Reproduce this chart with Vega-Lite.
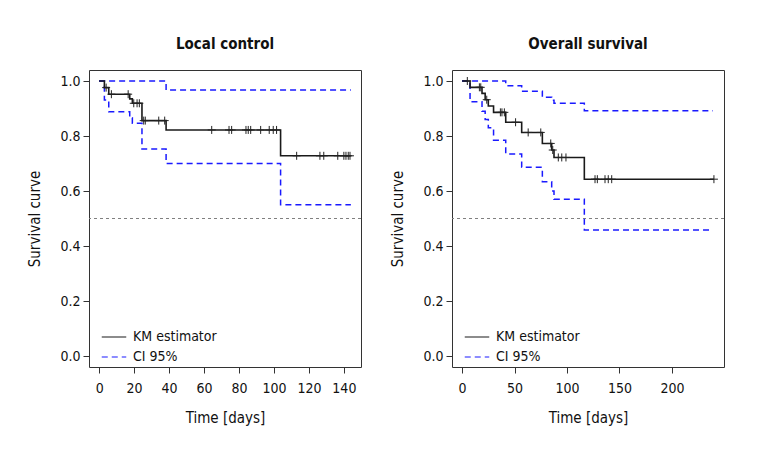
{
  "$schema": "https://vega.github.io/schema/vega-lite/v6.json",
  "padding": {"left": 27, "top": 36, "right": 10, "bottom": 10},
  "background": "white",
  "spacing": 28,
  "datasets": {
    "lc_lines": [
      {"t": 0, "s": 1, "series": "KM estimator", "bound": "km"},
      {"t": 3, "s": 0.976, "series": "KM estimator", "bound": "km"},
      {"t": 5.5, "s": 0.952, "series": "KM estimator", "bound": "km"},
      {"t": 17.5, "s": 0.935, "series": "KM estimator", "bound": "km"},
      {"t": 19, "s": 0.919, "series": "KM estimator", "bound": "km"},
      {"t": 24.5, "s": 0.856, "series": "KM estimator", "bound": "km"},
      {"t": 38.3, "s": 0.822, "series": "KM estimator", "bound": "km"},
      {"t": 103.8, "s": 0.728, "series": "KM estimator", "bound": "km"},
      {"t": 144, "s": 0.728, "series": "KM estimator", "bound": "km"},
      {"t": 0, "s": 1, "series": "CI 95%", "bound": "upper"},
      {"t": 38.3, "s": 0.967, "series": "CI 95%", "bound": "upper"},
      {"t": 144, "s": 0.967, "series": "CI 95%", "bound": "upper"},
      {"t": 0, "s": 1, "series": "CI 95%", "bound": "lower"},
      {"t": 3, "s": 0.931, "series": "CI 95%", "bound": "lower"},
      {"t": 5.5, "s": 0.888, "series": "CI 95%", "bound": "lower"},
      {"t": 17.5, "s": 0.866, "series": "CI 95%", "bound": "lower"},
      {"t": 19, "s": 0.846, "series": "CI 95%", "bound": "lower"},
      {"t": 24.5, "s": 0.753, "series": "CI 95%", "bound": "lower"},
      {"t": 38.3, "s": 0.7, "series": "CI 95%", "bound": "lower"},
      {"t": 103.8, "s": 0.55, "series": "CI 95%", "bound": "lower"},
      {"t": 144, "s": 0.55, "series": "CI 95%", "bound": "lower"}
    ],
    "lc_cens": [
      {"t": 4, "s": 0.976}, {"t": 7, "s": 0.952}, {"t": 16.6, "s": 0.952},
      {"t": 19.8, "s": 0.919}, {"t": 21.7, "s": 0.919}, {"t": 23, "s": 0.919},
      {"t": 25.5, "s": 0.856}, {"t": 26.4, "s": 0.856}, {"t": 34.1, "s": 0.856}, {"t": 37.5, "s": 0.856},
      {"t": 64.4, "s": 0.822}, {"t": 74.3, "s": 0.822}, {"t": 75.8, "s": 0.822}, {"t": 84, "s": 0.822},
      {"t": 85.3, "s": 0.822}, {"t": 86.7, "s": 0.822}, {"t": 92.4, "s": 0.822}, {"t": 97.3, "s": 0.822},
      {"t": 99.6, "s": 0.822}, {"t": 101.5, "s": 0.822},
      {"t": 113, "s": 0.728}, {"t": 126.3, "s": 0.728}, {"t": 128.5, "s": 0.728}, {"t": 136.5, "s": 0.728},
      {"t": 140, "s": 0.728}, {"t": 141.2, "s": 0.728}, {"t": 142.5, "s": 0.728}, {"t": 143.5, "s": 0.728}
    ],
    "os_lines": [
      {"t": 0, "s": 1, "series": "KM estimator", "bound": "km"},
      {"t": 7.6, "s": 0.977, "series": "KM estimator", "bound": "km"},
      {"t": 19, "s": 0.955, "series": "KM estimator", "bound": "km"},
      {"t": 22, "s": 0.932, "series": "KM estimator", "bound": "km"},
      {"t": 25, "s": 0.909, "series": "KM estimator", "bound": "km"},
      {"t": 30, "s": 0.886, "series": "KM estimator", "bound": "km"},
      {"t": 41.6, "s": 0.85, "series": "KM estimator", "bound": "km"},
      {"t": 56.8, "s": 0.813, "series": "KM estimator", "bound": "km"},
      {"t": 76.5, "s": 0.773, "series": "KM estimator", "bound": "km"},
      {"t": 85.4, "s": 0.749, "series": "KM estimator", "bound": "km"},
      {"t": 87.6, "s": 0.722, "series": "KM estimator", "bound": "km"},
      {"t": 116.5, "s": 0.643, "series": "KM estimator", "bound": "km"},
      {"t": 240, "s": 0.643, "series": "KM estimator", "bound": "km"},
      {"t": 0, "s": 1, "series": "CI 95%", "bound": "upper"},
      {"t": 41.6, "s": 0.983, "series": "CI 95%", "bound": "upper"},
      {"t": 56.8, "s": 0.963, "series": "CI 95%", "bound": "upper"},
      {"t": 76.5, "s": 0.941, "series": "CI 95%", "bound": "upper"},
      {"t": 85.4, "s": 0.93, "series": "CI 95%", "bound": "upper"},
      {"t": 87.6, "s": 0.919, "series": "CI 95%", "bound": "upper"},
      {"t": 116.5, "s": 0.892, "series": "CI 95%", "bound": "upper"},
      {"t": 239, "s": 0.892, "series": "CI 95%", "bound": "upper"},
      {"t": 0, "s": 1, "series": "CI 95%", "bound": "lower"},
      {"t": 7.6, "s": 0.925, "series": "CI 95%", "bound": "lower"},
      {"t": 19, "s": 0.89, "series": "CI 95%", "bound": "lower"},
      {"t": 22, "s": 0.86, "series": "CI 95%", "bound": "lower"},
      {"t": 25, "s": 0.83, "series": "CI 95%", "bound": "lower"},
      {"t": 30, "s": 0.785, "series": "CI 95%", "bound": "lower"},
      {"t": 41.6, "s": 0.735, "series": "CI 95%", "bound": "lower"},
      {"t": 56.8, "s": 0.686, "series": "CI 95%", "bound": "lower"},
      {"t": 76.5, "s": 0.634, "series": "CI 95%", "bound": "lower"},
      {"t": 85.4, "s": 0.6, "series": "CI 95%", "bound": "lower"},
      {"t": 87.6, "s": 0.57, "series": "CI 95%", "bound": "lower"},
      {"t": 116.5, "s": 0.458, "series": "CI 95%", "bound": "lower"},
      {"t": 236, "s": 0.458, "series": "CI 95%", "bound": "lower"}
    ],
    "os_cens": [
      {"t": 5, "s": 1}, {"t": 16.5, "s": 0.977}, {"t": 17.8, "s": 0.977}, {"t": 23.5, "s": 0.932},
      {"t": 36.5, "s": 0.886}, {"t": 38, "s": 0.886}, {"t": 40.3, "s": 0.886}, {"t": 51, "s": 0.85},
      {"t": 63, "s": 0.813}, {"t": 75, "s": 0.813}, {"t": 84.5, "s": 0.773}, {"t": 86.4, "s": 0.749},
      {"t": 91.7, "s": 0.722}, {"t": 95, "s": 0.722}, {"t": 99, "s": 0.722},
      {"t": 126.7, "s": 0.643}, {"t": 128.9, "s": 0.643}, {"t": 136.2, "s": 0.643}, {"t": 139.3, "s": 0.643},
      {"t": 142.6, "s": 0.643}, {"t": 240, "s": 0.643}
    ],
    "ref": [{"level": 0.5}]
  },
  "resolve": {
    "scale": {"x": "independent", "y": "independent", "color": "independent", "strokeDash": "independent"},
    "legend": {"color": "independent", "strokeDash": "independent"}
  },
  "hconcat": [
    {
      "width": 272,
      "height": 297,
      "title": {"text": "Local control"},
      "encoding": {
        "x": {"field": "t", "type": "quantitative", "scale": {"domain": [-5.8, 149.8], "nice": false, "zero": false},
              "axis": {"title": "Time [days]", "values": [0, 20, 40, 60, 80, 100, 120, 140], "labelOverlap": false}},
        "y": {"field": "s", "type": "quantitative", "scale": {"domain": [-0.04, 1.04], "nice": false, "zero": false},
              "axis": {"title": "Survival curve", "values": [0, 0.2, 0.4, 0.6, 0.8, 1.0], "format": ".1f", "labelOverlap": false}}
      },
      "layer": [
        {
          "data": {"name": "ref"},
          "mark": {"type": "rule", "color": "#808080", "strokeDash": [3, 3], "strokeWidth": 1},
          "encoding": {"x": null, "y": {"field": "level", "type": "quantitative"}}
        },
        {
          "data": {"name": "lc_lines"},
          "transform": [{"filter": "datum.series === 'CI 95%'"}],
          "mark": {"type": "line", "interpolate": "step-after", "strokeWidth": 1.5},
          "encoding": {
            "detail": {"field": "bound"},
            "color": {"field": "series", "type": "nominal", "scale": {"domain": ["KM estimator", "CI 95%"], "range": ["#1a1a1a", "#1a1aff"]}, "legend": {"title": null}},
            "strokeDash": {"field": "series", "type": "nominal", "scale": {"domain": ["KM estimator", "CI 95%"], "range": [[1, 0], [6, 4]]}, "legend": {"title": null}}
          }
        },
        {
          "data": {"name": "lc_lines"},
          "transform": [{"filter": "datum.series === 'KM estimator'"}],
          "mark": {"type": "line", "interpolate": "step-after", "strokeWidth": 1.6},
          "encoding": {
            "color": {"field": "series", "type": "nominal"},
            "strokeDash": {"field": "series", "type": "nominal"}
          }
        },
        {
          "data": {"name": "lc_cens"},
          "mark": {"type": "point", "shape": "M-1,0L1,0M0,-1L0,1", "filled": false, "stroke": "#222222", "strokeWidth": 1, "size": 64, "opacity": 1}
        }
      ]
    },
    {
      "width": 272,
      "height": 297,
      "title": {"text": "Overall survival"},
      "encoding": {
        "x": {"field": "t", "type": "quantitative", "scale": {"domain": [-9.6, 249.6], "nice": false, "zero": false},
              "axis": {"title": "Time [days]", "values": [0, 50, 100, 150, 200], "labelOverlap": false}},
        "y": {"field": "s", "type": "quantitative", "scale": {"domain": [-0.04, 1.04], "nice": false, "zero": false},
              "axis": {"title": "Survival curve", "values": [0, 0.2, 0.4, 0.6, 0.8, 1.0], "format": ".1f", "labelOverlap": false}}
      },
      "layer": [
        {
          "data": {"name": "ref"},
          "mark": {"type": "rule", "color": "#808080", "strokeDash": [3, 3], "strokeWidth": 1},
          "encoding": {"x": null, "y": {"field": "level", "type": "quantitative"}}
        },
        {
          "data": {"name": "os_lines"},
          "transform": [{"filter": "datum.series === 'CI 95%'"}],
          "mark": {"type": "line", "interpolate": "step-after", "strokeWidth": 1.5},
          "encoding": {
            "detail": {"field": "bound"},
            "color": {"field": "series", "type": "nominal", "scale": {"domain": ["KM estimator", "CI 95%"], "range": ["#1a1a1a", "#1a1aff"]}, "legend": {"title": null}},
            "strokeDash": {"field": "series", "type": "nominal", "scale": {"domain": ["KM estimator", "CI 95%"], "range": [[1, 0], [6, 4]]}, "legend": {"title": null}}
          }
        },
        {
          "data": {"name": "os_lines"},
          "transform": [{"filter": "datum.series === 'KM estimator'"}],
          "mark": {"type": "line", "interpolate": "step-after", "strokeWidth": 1.6},
          "encoding": {
            "color": {"field": "series", "type": "nominal"},
            "strokeDash": {"field": "series", "type": "nominal"}
          }
        },
        {
          "data": {"name": "os_cens"},
          "mark": {"type": "point", "shape": "M-1,0L1,0M0,-1L0,1", "filled": false, "stroke": "#222222", "strokeWidth": 1, "size": 64, "opacity": 1}
        }
      ]
    }
  ],
  "config": {
    "font": "DejaVu Sans Condensed, Liberation Sans Narrow, Open Sans, sans-serif",
    "view": {"stroke": "#333333", "strokeWidth": 1},
    "title": {"fontSize": 15, "fontWeight": "bold", "color": "#111111", "offset": 18, "anchor": "middle"},
    "axis": {
      "grid": false,
      "domain": false,
      "tickSize": 6,
      "tickColor": "#333333",
      "labelFontSize": 14,
      "labelColor": "#111111",
      "labelOverlap": false,
      "labelFlush": false,
      "titleFontSize": 15,
      "titleFontWeight": "normal",
      "titleColor": "#111111"
    },
    "axisY": {"labelPadding": 3, "titlePadding": 17},
    "axisX": {"labelPadding": 8, "titlePadding": 15},
    "legend": {
      "orient": "none",
      "legendX": 12,
      "legendY": 254,
      "symbolType": "stroke",
      "symbolSize": 600,
      "symbolStrokeWidth": 1.2,
      "labelFontSize": 14,
      "labelColor": "#111111",
      "labelOffset": 6,
      "rowPadding": -2,
      "padding": 0
    }
  }
}
